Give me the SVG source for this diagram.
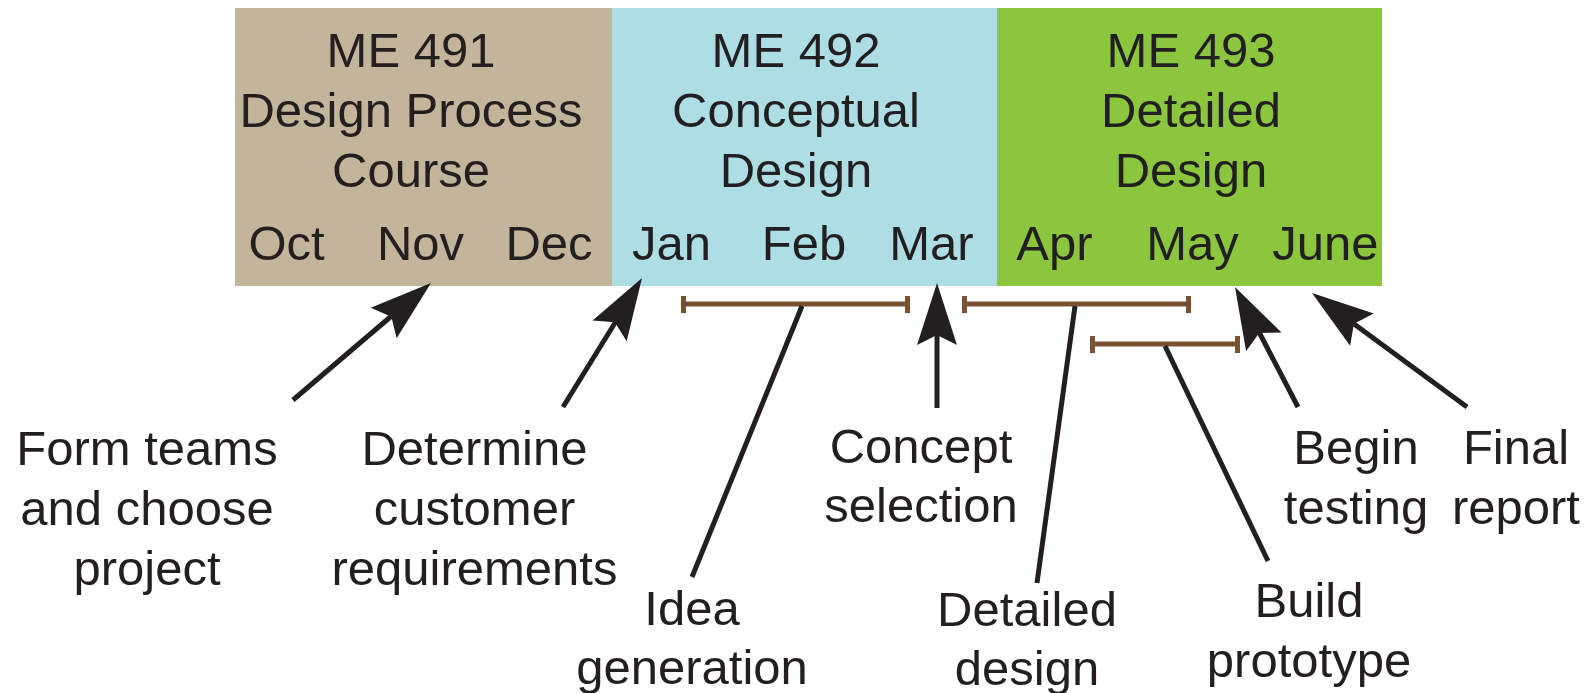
<svg xmlns="http://www.w3.org/2000/svg" xmlns:xlink="http://www.w3.org/1999/xlink" width="1595" height="693" viewBox="0 0 1595 693">
<style>
.t{font-family:"Liberation Sans",Arial,sans-serif;font-size:49px;fill:#231F20;text-anchor:middle}
.ln{stroke:#231F20;stroke-width:5;fill:none}
.bar{stroke:#7B5231;stroke-width:5;fill:none}
.cap{fill:#7B5231}
.ah{fill:#231F20}
</style>
<defs>
<path id="ah" d="M0,0 L-62,-20 L-52,0 L-62,20 Z"/>
</defs>
<g id="me491">
<rect x="235" y="8" width="377" height="278" fill="#C2B59B"/>
<text class="t" x="411" y="67">ME 491</text>
<text class="t" x="411" y="127">Design Process</text>
<text class="t" x="411" y="187">Course</text>
<text class="t" x="286.5" y="260">Oct</text>
<text class="t" x="420.5" y="260">Nov</text>
<text class="t" x="549" y="260">Dec</text>
</g>
<g id="me492">
<rect x="612" y="8" width="385" height="278" fill="#ADDEE3"/>
<text class="t" x="796" y="67">ME 492</text>
<text class="t" x="796" y="127">Conceptual</text>
<text class="t" x="796" y="187">Design</text>
<text class="t" x="671.5" y="260">Jan</text>
<text class="t" x="804" y="260">Feb</text>
<text class="t" x="931.5" y="260">Mar</text>
</g>
<g id="me493">
<rect x="997" y="8" width="385" height="278" fill="#8CC63F"/>
<text class="t" x="1191" y="67">ME 493</text>
<text class="t" x="1191" y="127">Detailed</text>
<text class="t" x="1191" y="187">Design</text>
<text class="t" x="1054.5" y="260">Apr</text>
<text class="t" x="1192.5" y="260">May</text>
<text class="t" x="1325.5" y="260">June</text>
</g>
<g id="connectors">
<line class="bar" x1="682" y1="304" x2="908" y2="304"/>
<rect class="cap" x="681" y="296" width="5" height="17"/>
<rect class="cap" x="905" y="296" width="5" height="17"/>
<line class="bar" x1="964" y1="304" x2="1188" y2="304"/>
<rect class="cap" x="962" y="296" width="5" height="17"/>
<rect class="cap" x="1186" y="296" width="5" height="17"/>
<line class="bar" x1="1092" y1="344" x2="1237" y2="344"/>
<rect class="cap" x="1090" y="336" width="5" height="17"/>
<rect class="cap" x="1235" y="336" width="5" height="17"/>
<line class="ln" x1="802" y1="306" x2="692" y2="577"/>
<line class="ln" x1="1075" y1="306" x2="1037" y2="583"/>
<line class="ln" x1="1165" y1="346" x2="1268" y2="561"/>
<line class="ln" x1="293" y1="400" x2="395" y2="313"/>
<use xlink:href="#ah" class="ah" transform="translate(431,283) rotate(-40.3)"/>
<line class="ln" x1="563" y1="407" x2="618" y2="318"/>
<use xlink:href="#ah" class="ah" transform="translate(642,278) rotate(-58.5)"/>
<line class="ln" x1="937" y1="408" x2="937" y2="330"/>
<use xlink:href="#ah" class="ah" transform="translate(937,283) rotate(-90)"/>
<line class="ln" x1="1298" y1="407" x2="1259" y2="332"/>
<use xlink:href="#ah" class="ah" transform="translate(1235,287) rotate(-117.7)"/>
<line class="ln" x1="1467" y1="407" x2="1350" y2="321"/>
<use xlink:href="#ah" class="ah" transform="translate(1312,293) rotate(-143.7)"/>
</g>
<g id="form-teams">
<text class="t" x="147" y="465">Form teams</text>
<text class="t" x="147" y="525">and choose</text>
<text class="t" x="147" y="585">project</text>
</g>
<g id="determine">
<text class="t" x="474.5" y="465">Determine</text>
<text class="t" x="474.5" y="525">customer</text>
<text class="t" x="474.5" y="585">requirements</text>
</g>
<g id="idea">
<text class="t" x="692" y="625">Idea</text>
<text class="t" x="692" y="684">generation</text>
</g>
<g id="concept">
<text class="t" x="921" y="463">Concept</text>
<text class="t" x="921" y="522">selection</text>
</g>
<g id="detailed">
<text class="t" x="1027" y="626">Detailed</text>
<text class="t" x="1027" y="685">design</text>
</g>
<g id="build">
<text class="t" x="1309" y="617">Build</text>
<text class="t" x="1309" y="677">prototype</text>
</g>
<g id="testing">
<text class="t" x="1356" y="464">Begin</text>
<text class="t" x="1356" y="524">testing</text>
</g>
<g id="final">
<text class="t" x="1516" y="464">Final</text>
<text class="t" x="1516" y="524">report</text>
</g>
</svg>
